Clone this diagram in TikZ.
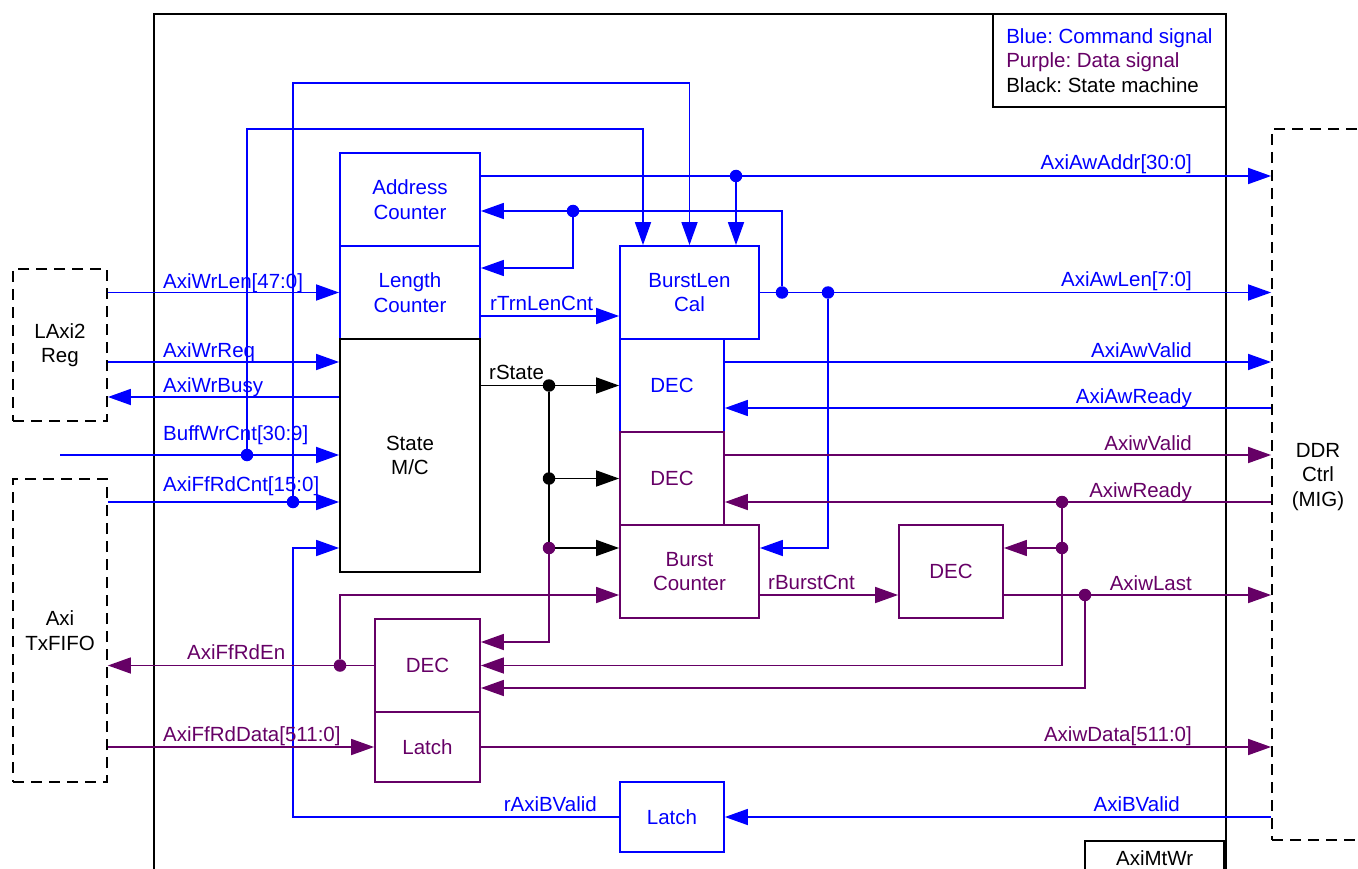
\documentclass[tikz,border=0pt]{standalone}
\usepackage{fontspec}
\setmainfont{Liberation Sans}
\usetikzlibrary{arrows.meta}
\definecolor{cmdblue}{HTML}{0000FF}
\definecolor{datpurple}{HTML}{660066}
\frenchspacing

\begin{document}
\begin{tikzpicture}[x=1pt, y=-1pt, >={Triangle[length=23pt, width=16pt]},
  font=\fontsize{20.5}{24.5}\selectfont,
  blk/.style={draw, line width=1.8pt, inner sep=0pt, align=center},
  cmdblk/.style={blk, draw=cmdblue, text=cmdblue},
  datblk/.style={blk, draw=datpurple, text=datpurple},
  extblk/.style={draw, line width=1.8pt, dash pattern=on 11pt off 7pt, align=center},
  cmdwire/.style={cmdblue, line width=1.7pt},
  datwire/.style={datpurple, line width=1.7pt},
  ctlwire/.style={black, line width=1.7pt},
  jdot/.style={circle, fill=#1, inner sep=0pt, minimum size=12.5pt},
  sig/.style={inner sep=0pt}]

\useasboundingbox (0,0) rectangle (1358,869);

% Module frame, legend and name tag
\node[draw, line width=1.9pt, minimum width=1072pt, minimum height=890pt, anchor=north west] (mtwr) at (153,13) {};
\node[draw, line width=1.8pt, anchor=north west, minimum width=233pt, minimum height=93pt, inner xsep=0pt, align=left] (legend) at (992,13)
  {\textcolor{cmdblue}{Blue: Command signal}\\\textcolor{datpurple}{Purple: Data signal}\\Black: State machine};
\node[draw, line width=1.8pt, anchor=north east, minimum width=139pt, minimum height=34pt] (mtwrtag) at (1225,840) {AxiMtWr};

% Outside blocks
\node[extblk, minimum width=94pt, minimum height=152pt] (lreg) at (60,345) {LAxi2\\Reg};
\node[extblk, minimum width=94pt, minimum height=303pt] (txf) at (60,630.5) {Axi\\TxFIFO};
\node[extblk, minimum width=92pt, minimum height=711pt] (ddr) at (1318,484.5) {};
\node[align=center] (ddrtxt) at (1318,477) {DDR\\Ctrl\\(MIG)};

% Counters and state machine
\node[cmdblk, minimum width=140pt, minimum height=93pt] (addrcnt) at (410,199.5) {Address\\Counter};
\node[cmdblk, minimum width=140pt, minimum height=93pt] (lencnt) at (410,292.5) {Length\\Counter};
\node[blk, minimum width=140pt, minimum height=233pt] (smc) at (410,455.5) {State\\M/C};

% Burst length and decoders
\node[cmdblk, minimum width=139pt, minimum height=93pt] (blcal) at (689.5,292.5) {BurstLen\\Cal};
\node[cmdblk, minimum width=104pt, minimum height=93pt] (decaw) at (672,385.5) {DEC};
\node[datblk, minimum width=104pt, minimum height=93pt] (decw) at (672,478.5) {DEC};
\node[datblk, minimum width=139pt, minimum height=93pt] (bcnt) at (689.5,571.5) {Burst\\Counter};
\node[datblk, minimum width=104pt, minimum height=93pt] (declast) at (951,571.5) {DEC};
\node[datblk, minimum width=105pt, minimum height=93pt] (decrd) at (427.5,665.5) {DEC};
\node[datblk, minimum width=105pt, minimum height=70pt] (latchd) at (427.5,747) {Latch};
\node[cmdblk, minimum width=104pt, minimum height=70pt] (latchb) at (672,817) {Latch};

% Junction dots
\node[jdot=cmdblue] (jbuf) at (247,455) {};
\node[jdot=cmdblue] (jffc) at (293,502) {};
\node[jdot=cmdblue] (jaddr) at (736,176) {};
\node[jdot=cmdblue] (jfb) at (573,211) {};
\node[jdot=cmdblue] (jlen1) at (782,292.5) {};
\node[jdot=cmdblue] (jlen2) at (828,292.5) {};
\node[jdot=black] (jst1) at (549,385.5) {};
\node[jdot=black] (jst2) at (549,478.5) {};
\node[jdot=datpurple] (jst3) at (549,548) {};
\node[jdot=datpurple] (jrdy) at (1062,502) {};
\node[jdot=datpurple] (jrdy2) at (1062,548) {};
\node[jdot=datpurple] (jlast) at (1085,595) {};
\node[jdot=datpurple] (jren) at (340,665.5) {};
\coordinate (bufin) at (60,455);

% Command signals
\draw[cmdwire,->] (lreg.east |- lencnt.west) -- (lencnt.west);
\draw[cmdwire,->] (lreg.east |- 0,362) -- (smc.west |- 0,362);
\draw[cmdwire,->] (smc.west |- 0,397) -- (lreg.east |- 0,397);
\draw[cmdwire,->] (bufin) -- (smc.west |- bufin);
\draw[cmdwire,->] (txf.east |- jffc) -- (smc.west |- jffc);
\draw[cmdwire,->] (jbuf) |- (643,129) -- (blcal.north -| 643,0);
\draw[cmdwire,->] (jffc) |- (blcal.north |- 0,83) -- (blcal.north);
\draw[cmdwire,->] (latchb.west) -| (293,548) -- (smc.west |- 0,548);
\draw[cmdwire,->] (addrcnt.east |- jaddr) -- (ddr.west |- jaddr);
\draw[cmdwire,->] (jaddr) -- (jaddr |- blcal.north);
\draw[cmdwire,->] (blcal.east) -- (ddr.west |- blcal.east);
\draw[cmdwire,->] (jlen1) |- (addrcnt.east |- jfb);
\draw[cmdwire,->] (jfb) |- (lencnt.east |- 0,268);
\draw[cmdwire,->] (jlen2) |- (bcnt.east |- jst3);
\draw[cmdwire,->] (lencnt.east |- 0,316) -- (blcal.west |- 0,316);
\draw[cmdwire,->] (decaw.east |- 0,362) -- (ddr.west |- 0,362);
\draw[cmdwire,->] (ddr.west |- 0,408) -- (decaw.east |- 0,408);
\draw[cmdwire,->] (ddr.west |- latchb.east) -- (latchb.east);

% State machine outputs
\draw[ctlwire,->] (smc.east |- decaw.west) -- (decaw.west);
\draw[ctlwire] (jst1) -- (jst3);
\draw[ctlwire,->] (jst2) -- (decw.west);
\draw[ctlwire,->] (jst3) -- (bcnt.west |- jst3);

% Data signals
\draw[datwire,->] (jst3) |- (decrd.east |- 0,642);
\draw[datwire,->] (decw.east |- 0,455) -- (ddr.west |- 0,455);
\draw[datwire,->] (ddr.west |- jrdy) -- (decw.east |- jrdy);
\draw[datwire,->] (jrdy) |- (decrd.east);
\draw[datwire,->] (jrdy2) -- (declast.east |- jrdy2);
\draw[datwire,->] (bcnt.east |- jlast) -- (declast.west |- jlast);
\draw[datwire,->] (declast.east |- jlast) -- (ddr.west |- jlast);
\draw[datwire,->] (jlast) |- (decrd.east |- 0,688);
\draw[datwire,->] (decrd.west) -- (txf.east |- decrd.west);
\draw[datwire,->] (jren) |- (bcnt.west |- jlast);
\draw[datwire,->] (txf.east |- latchd.west) -- (latchd.west);
\draw[datwire,->] (latchd.east) -- (ddr.west |- latchd.east);

% Signal names
\node[sig, text=cmdblue, anchor=base west] (lwrlen) at (163,288) {AxiWrLen[47:0]};
\node[sig, text=cmdblue, anchor=base west] (lwrreq) at (163,357) {AxiWrReq};
\node[sig, text=cmdblue, anchor=base west] (lwrbusy) at (163,392) {AxiWrBusy};
\node[sig, text=cmdblue, anchor=base west] (lbufcnt) at (163,440) {BuffWrCnt[30:9]};
\node[sig, text=cmdblue, anchor=base west] (lffcnt) at (163,491) {AxiFfRdCnt[15:0]};
\node[sig, text=datpurple, anchor=base west] (lffen) at (187,659) {AxiFfRdEn};
\node[sig, text=datpurple, anchor=base west] (lffdata) at (163,741) {AxiFfRdData[511:0]};
\node[sig, text=cmdblue, anchor=base east] (lbvalid) at (597,811) {rAxiBValid};
\node[sig, text=cmdblue, anchor=base west] (ltrnlen) at (490,310) {rTrnLenCnt};
\node[sig, anchor=base west] (lstate) at (489,379) {rState};
\node[sig, text=datpurple, anchor=base west] (lburst) at (768,589) {rBurstCnt};
\node[sig, text=cmdblue, anchor=base east] (lawaddr) at (1192,170) {AxiAwAddr[30:0]};
\node[sig, text=cmdblue, anchor=base east] (lawlen) at (1192,287) {AxiAwLen[7:0]};
\node[sig, text=cmdblue, anchor=base east] (lawvalid) at (1192,357) {AxiAwValid};
\node[sig, text=cmdblue, anchor=base east] (lawready) at (1192,403) {AxiAwReady};
\node[sig, text=datpurple, anchor=base east] (lwvalid) at (1192,450) {AxiwValid};
\node[sig, text=datpurple, anchor=base east] (lwready) at (1192,497) {AxiwReady};
\node[sig, text=datpurple, anchor=base east] (lwlast) at (1192,590) {AxiwLast};
\node[sig, text=datpurple, anchor=base east] (lwdata) at (1192,741) {AxiwData[511:0]};
\node[sig, text=cmdblue, anchor=base east] (lbvalidin) at (1180,811) {AxiBValid};

\end{tikzpicture}
\end{document}
